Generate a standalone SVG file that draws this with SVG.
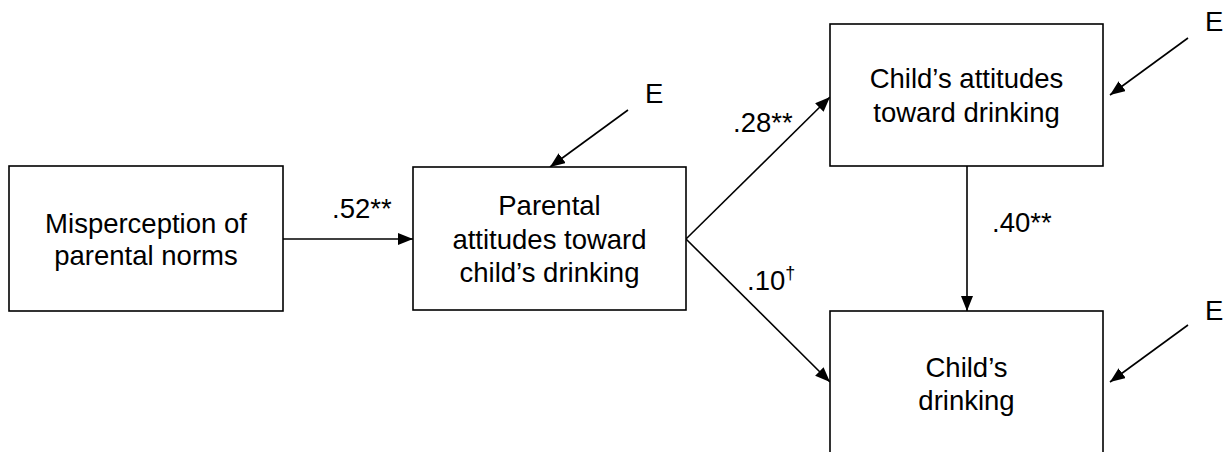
<svg xmlns="http://www.w3.org/2000/svg" width="1231" height="452" viewBox="0 0 1231 452">
<defs>
<marker id="ah" markerUnits="userSpaceOnUse" markerWidth="16" markerHeight="13" refX="15" refY="6" orient="auto">
<path d="M0,0 L15,6 L0,12 z" fill="#000"/>
</marker>
<style>
.box{fill:#fff;stroke:#000;stroke-width:1.6}
.lbl{font-family:"Liberation Sans",Arial,sans-serif;font-size:27.5px;fill:#000}
.ctr{text-anchor:middle}
.con line{stroke:#000;stroke-width:1.6;marker-end:url(#ah)}
</style>
</defs>
<rect width="1231" height="452" fill="#fff"/>
<g id="connectors" class="con">
<line x1="283" y1="239" x2="413" y2="239"/>
<line x1="686" y1="239" x2="830" y2="97"/>
<line x1="686" y1="239" x2="830" y2="382"/>
<line x1="967" y1="166" x2="967" y2="311"/>
<line x1="628" y1="110" x2="550" y2="167"/>
<line x1="1188" y1="38" x2="1110" y2="95"/>
<line x1="1188" y1="325" x2="1110" y2="382"/>
</g>
<g id="node-misperception">
<rect class="box" x="9" y="166" width="274" height="145"/>
<text class="lbl ctr" x="146" y="233">Misperception of</text>
<text class="lbl ctr" x="146" y="265">parental norms</text>
</g>
<g id="node-parental">
<rect class="box" x="413" y="167" width="273" height="143"/>
<text class="lbl ctr" x="549.5" y="215">Parental</text>
<text class="lbl ctr" x="549.5" y="249">attitudes toward</text>
<text class="lbl ctr" x="549.5" y="282">child’s drinking</text>
</g>
<g id="node-child-attitudes">
<rect class="box" x="830" y="24" width="273" height="142"/>
<text class="lbl ctr" x="966.5" y="88">Child’s attitudes</text>
<text class="lbl ctr" x="966.5" y="122">toward drinking</text>
</g>
<g id="node-child-drinking">
<rect class="box" x="830" y="311" width="273" height="160"/>
<text class="lbl ctr" x="966.5" y="377">Child’s</text>
<text class="lbl ctr" x="966.5" y="410">drinking</text>
</g>
<g id="errors">
<text class="lbl" x="645" y="103">E</text>
<text class="lbl" x="1205" y="31">E</text>
<text class="lbl" x="1205" y="320">E</text>
</g>
<g id="path-labels">
<text class="lbl" x="332" y="218">.52**</text>
<text class="lbl" x="733" y="132">.28**</text>
<text class="lbl" x="747" y="290">.10<tspan font-size="18" dy="-11">†</tspan></text>
<text class="lbl" x="992" y="232">.40**</text>
</g>
</svg>
